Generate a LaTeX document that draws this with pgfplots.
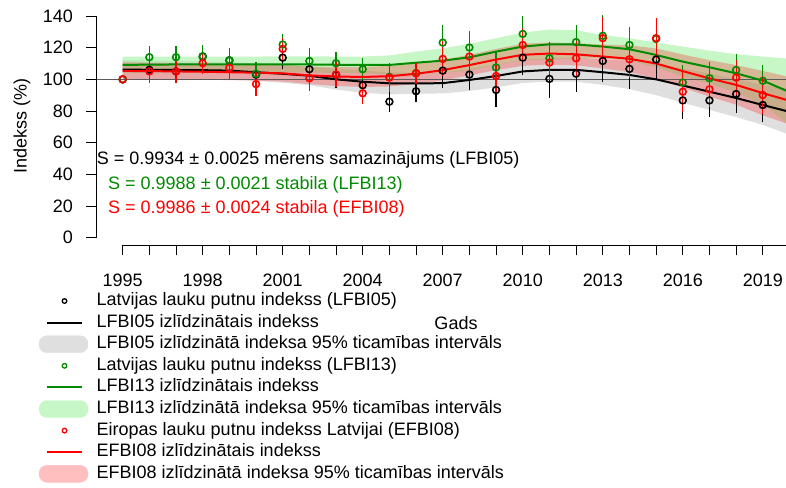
\documentclass[border=0pt]{standalone}
\usepackage{fontspec}
\setmainfont{Liberation Sans}
\usepackage{pgfplots}
\pgfplotsset{compat=1.18}
\usepackage{pgfplotstable}
\usepgfplotslibrary{fillbetween}
\definecolor{g4}{RGB}{0,139,0}
\definecolor{lgreen}{RGB}{144,238,144}
\definecolor{hl}{RGB}{90,90,90}

% smoothed lines and 95% bands: year, line, lower, upper
\pgfplotstableread{
year  s     lo    hi
1995 106.2 100.2 112.2
1996 106.0 100.2 111.8
1997 105.9 100.3 111.5
1998 105.8 100.3 111.3
1999 105.5 100.0 111.0
2000 104.5  99.0 110.0
2001 103.5  97.8 109.2
2002 102.3  96.3 108.3
2003 100.0  93.5 106.5
2004  98.5  91.5 105.5
2005  97.5  90.5 104.5
2006  97.4  90.9 103.9
2007  97.6  91.1 104.1
2008  99.6  92.6 106.6
2009 102.1  94.9 109.3
2010 105.0  97.7 112.3
2011 106.0  98.6 113.4
2012 106.0  98.5 113.5
2013 104.5  96.5 112.5
2014 102.8  93.8 111.8
2015 100.0  90.0 110.0
2016  96.1  85.3 106.9
2017  92.2  80.7 103.7
2018  88.2  76.2 100.2
2019  83.8  71.2  96.4
2020  79.5  65.0  94.0
}\smA
\pgfplotstableread{
year  s     lo    hi
1995 109.1 103.8 114.4
1996 109.3 104.2 114.4
1997 109.4 104.4 114.4
1998 109.5 104.6 114.4
1999 109.5 104.6 114.4
2000 109.5 104.6 114.4
2001 109.5 104.5 114.5
2002 109.4 104.3 114.5
2003 109.2 104.0 114.4
2004 109.1 103.8 114.4
2005 109.1 103.1 115.1
2006 110.5 103.5 117.5
2007 111.8 104.0 119.6
2008 113.9 105.4 122.4
2009 117.5 109.0 126.0
2010 120.7 111.9 129.5
2011 122.1 112.7 131.5
2012 122.0 113.0 131.0
2013 120.7 113.4 128.0
2014 119.0 112.0 126.0
2015 115.4 107.6 123.2
2016 111.2 101.7 120.7
2017 107.6  97.1 118.1
2018 103.8  91.7 115.9
2019  99.2  84.0 114.4
2020  92.0  71.0 113.0
}\smB
\pgfplotstableread{
year  s     lo    hi
1995 105.3  99.8 110.8
1996 105.2  99.9 110.5
1997 105.0  99.9 110.1
1998 104.8  99.8 109.8
1999 104.5  99.5 109.5
2000 104.2  99.2 109.2
2001 103.8  98.6 109.0
2002 102.5  97.0 108.0
2003 101.8  95.8 107.8
2004 101.5  95.2 107.8
2005 102.0  95.5 108.5
2006 103.5  97.0 110.0
2007 105.8  99.3 112.3
2008 109.0 102.5 115.5
2009 112.5 105.8 119.2
2010 115.5 108.5 122.5
2011 116.3 109.3 123.3
2012 115.8 108.8 122.8
2013 114.4 106.9 121.9
2014 113.0 104.5 121.5
2015 110.0 100.5 119.5
2016 105.2  94.7 115.7
2017 100.6  89.1 112.1
2018  96.5  84.0 109.0
2019  91.3  77.3 105.3
2020  86.5  71.5 101.5
}\smC

% yearly indices: year, value, half error
\pgfplotstableread{
year y err
1995 100.0 0
1996 106.0 7.5
1997 105.0 7.5
1998 114.4 7.5
1999 112.0 7.5
2000 103.0 7.5
2001 113.7 7.0
2002 106.4 7.5
2003 102.8 8.0
2004  96.3 7.5
2005  85.9 6.5
2006  92.5 6.5
2007 105.5 11.0
2008 103.0 10.0
2009  93.3 10.5
2010 113.7 11.0
2011 100.3 12.0
2012 103.6 11.5
2013 111.6 13.0
2014 106.6 13.0
2015 112.5 13.0
2016  86.7 11.5
2017  86.7 10.5
2018  90.7 12.0
2019  83.8 10.5
}\ptA
\pgfplotstableread{
year y err
1995 100.0 0
1996 114.0 7.0
1997 114.0 7.0
1998 114.6 7.0
1999 112.0 7.5
2000 103.5 7.5
2001 122.0 6.5
2002 111.6 8.0
2003 110.2 7.0
2004 106.4 7.0
2005 101.5 7.5
2006 104.0 7.0
2007 123.2 11.0
2008 120.1 10.5
2009 107.5 10.0
2010 128.7 11.0
2011 113.3 10.0
2012 123.5 11.0
2013 127.5 13.0
2014 121.7 11.6
2015 125.5 13.0
2016  98.0 11.0
2017 100.7 10.0
2018 105.9 10.0
2019  99.1 10.0
}\ptB
\pgfplotstableread{
year y err
1995 100.0 0
1996 105.0 7.5
1997 105.0 7.5
1998 110.2 7.0
1999 107.3 7.0
2000  97.0 7.3
2001 119.2 7.0
2002 100.7 7.8
2003 103.0 8.0
2004  91.2 7.0
2005 101.1 9.0
2006 103.8 6.5
2007 112.9 11.0
2008 114.4 10.0
2009 102.1 10.0
2010 121.7 11.0
2011 110.6 11.0
2012 113.3 11.0
2013 126.0 13.6
2014 112.7 12.0
2015 126.0 13.0
2016  92.2 13.0
2017  93.7 11.0
2018 101.1 11.0
2019  90.1 12.0
}\ptC

\pgfplotsset{
  limg/.style={legend image code/.code={%
    \path[draw=none,fill=none] (-8pt,-5pt) rectangle (41pt,5pt);
    \draw[#1,line width=2pt] (0pt,0pt) -- (35pt,0pt);}},
  cimg/.style={legend image code/.code={%
    \path[draw=none,fill=none] (-8pt,-5pt) rectangle (41pt,5pt);
    \draw[#1,line width=1.3pt,fill=none] (17.5pt,0pt) circle (2.3pt);}},
  fimg/.style={legend image code/.code={%
    \path[draw=none,fill=none] (-8pt,-5pt) rectangle (41pt,5pt);
    \fill[#1, rounded corners=8pt, overlay] (-8pt,-8.5pt) rectangle (41pt,8.5pt);}},
}

\begin{document}
\begin{tikzpicture}[font=\fontsize{18pt}{21pt}\selectfont]
\begin{axis}[
  at={(96pt,-245pt)}, anchor=south west,
  scale only axis, width=690pt, height=245pt,
  xmin=1994, xmax=2019.87, ymin=-4.6, ymax=150.1,
  clip=false,
  axis line style={draw=none},
  xtick={1995,1998,...,2019}, minor xtick={1995,...,2019},
  ytick={0,20,...,140},
  xtick pos=bottom, ytick pos=left,
  tick align=outside, major tick length=10pt, minor tick length=10pt,
  every tick/.style={black, line width=0.8pt},
  /pgf/number format/1000 sep={},
  /pgf/number format/assume math mode=true,
  xticklabel style={inner sep=0pt, anchor=base, yshift=-31pt},
  yticklabel style={inner sep=0pt, anchor=east, xshift=-13pt},
  tick label style={font=\fontsize{18pt}{21pt}\selectfont},
  legend style={at={(axis description cs:-0.0826,-0.1939)}, anchor=north west,
    draw=none, fill=none, inner sep=0pt, outer sep=0pt,
    row sep=4.6pt, column sep=8.7pt,
    nodes={inner sep=0pt, text height=13pt, text depth=4pt},
    font=\fontsize{18pt}{21pt}\selectfont},
  legend cell align=left,
]
% bands
\addplot[name path=aL, draw=none, forget plot] table[x=year, y=lo]{\smA};
\addplot[name path=aH, draw=none, forget plot] table[x=year, y=hi]{\smA};
\addplot[fill=gray, fill opacity=0.25, draw=none, forget plot] fill between[of=aL and aH];
\addplot[name path=bL, draw=none, forget plot] table[x=year, y=lo]{\smB};
\addplot[name path=bH, draw=none, forget plot] table[x=year, y=hi]{\smB};
\addplot[fill=lgreen, fill opacity=0.5, draw=none, forget plot] fill between[of=bL and bH];
\addplot[name path=cL, draw=none, forget plot] table[x=year, y=lo]{\smC};
\addplot[name path=cH, draw=none, forget plot] table[x=year, y=hi]{\smC};
\addplot[fill=red, fill opacity=0.25, draw=none, forget plot] fill between[of=cL and cH];
% reference line at 100
\draw[hl, line width=0.8pt] (axis cs:1994,100) -- (axis cs:2019.87,100);
% axes
\draw[black, line width=0.8pt] (axis cs:1994,0) -- (axis cs:1994,140);
\draw[black, line width=0.8pt] (axis cs:1995,-4.6) -- (axis cs:2019.87,-4.6);
% LFBI05
\addplot[black, only marks, mark=o, mark size=3.4pt, mark options={line width=1.6pt},
  forget plot, error bars/.cd, y dir=both, y explicit, error mark=none,
  error bar style={line width=1.2pt, black}]
  table[x=year, y=y, y error=err]{\ptA};
\addplot[black, line width=2pt, forget plot] table[x=year, y=s]{\smA};
% LFBI13
\addplot[g4, only marks, mark=o, mark size=3.4pt, mark options={line width=1.6pt},
  forget plot, error bars/.cd, y dir=both, y explicit, error mark=none,
  error bar style={line width=1.2pt, g4}]
  table[x=year, y=y, y error=err]{\ptB};
\addplot[g4, line width=2pt, forget plot] table[x=year, y=s]{\smB};
% EFBI08
\addplot[red, only marks, mark=o, mark size=3.4pt, mark options={line width=1.6pt},
  forget plot, error bars/.cd, y dir=both, y explicit, error mark=none,
  error bar style={line width=1.2pt, red}]
  table[x=year, y=y, y error=err]{\ptC};
\addplot[red, line width=2pt, forget plot] table[x=year, y=s]{\smC};

% legend
\addlegendimage{cimg=black}
\addlegendentry{Latvijas lauku putnu indekss (LFBI05)}
\addlegendimage{limg=black}
\addlegendentry{LFBI05 izlīdzinātais indekss}
\addlegendimage{fimg=gray!25}
\addlegendentry{LFBI05 izlīdzinātā indeksa 95\% ticamības intervāls}
\addlegendimage{cimg=g4}
\addlegendentry{Latvijas lauku putnu indekss (LFBI13)}
\addlegendimage{limg=g4}
\addlegendentry{LFBI13 izlīdzinātais indekss}
\addlegendimage{fimg=lgreen!50}
\addlegendentry{LFBI13 izlīdzinātā indeksa 95\% ticamības intervāls}
\addlegendimage{cimg=red}
\addlegendentry{Eiropas lauku putnu indekss Latvijai (EFBI08)}
\addlegendimage{limg=red}
\addlegendentry{EFBI08 izlīdzinātais indekss}
\addlegendimage{fimg=red!25}
\addlegendentry{EFBI08 izlīdzinātā indeksa 95\% ticamības intervāls}
\end{axis}
% texts
\node[rotate=90, inner sep=0pt] at (22pt,-126pt) {Indekss (\%)};
\node[anchor=base, inner sep=0pt] at (456pt,-329pt) {Gads};
\node[anchor=base west, inner sep=0pt] at (96.7pt,-164.3pt) {S = 0.9934 ± 0.0025 mērens samazinājums (LFBI05)};
\node[anchor=base west, inner sep=0pt, text=g4] at (108pt,-189.3pt) {S = 0.9988 ± 0.0021 stabila (LFBI13)};
\node[anchor=base west, inner sep=0pt, text=red] at (108pt,-213.3pt) {S = 0.9986 ± 0.0024 stabila (EFBI08)};
\pgfresetboundingbox
\useasboundingbox (0,0) rectangle (786pt,-487pt);
\end{tikzpicture}
\end{document}
